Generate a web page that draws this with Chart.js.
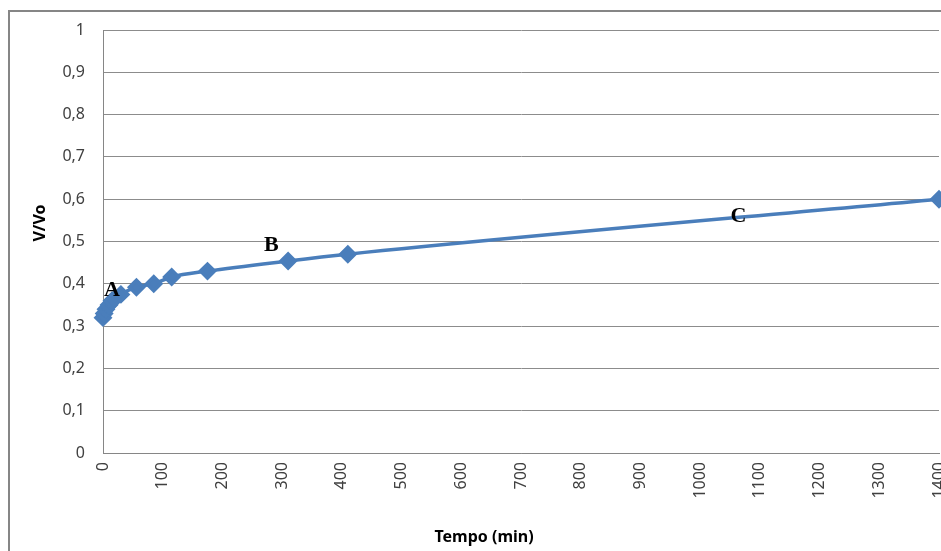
<!DOCTYPE html>
<html>
<head>
<meta charset="utf-8">
<script src="https://cdn.jsdelivr.net/npm/chart.js@4.4.1/dist/chart.umd.min.js"></script>
<style>
    html, body { margin: 0; padding: 0; background: #fff; }
    #wrap { width: 941px; height: 551px; position: relative; }
</style>
</head>
<body>
<div id="wrap"><canvas id="chart"></canvas></div>
<script>
// time in minutes and V/Vo
const tempo = [0, 2, 5, 10, 15, 20, 30, 56, 85, 115, 175, 310, 410, 1400];
const vVo = [0.32, 0.33, 0.34, 0.35, 0.36, 0.365, 0.375, 0.392, 0.40, 0.416, 0.43, 0.454, 0.47, 0.60];
const xTicks = [0, 100, 200, 300, 400, 500, 600, 700, 800, 900, 1000, 1100, 1200, 1300, 1400];
const yTicks = [0, 0.1, 0.2, 0.3, 0.4, 0.5, 0.6, 0.7, 0.8, 0.9, 1];
const regionLabels = ["A", "B", "C"];
const regionX = [15, 282, 1064];
const regionY = [0.385, 0.49, 0.56];

const points = tempo.map((t, i) => ({ x: t, y: vVo[i] }));

// frame, axis titles and the A / B / C labels
const extras = {
    id: "extras",
    beforeDraw(chart) {
        const ctx = chart.ctx;
        ctx.save();
        ctx.strokeStyle = "#868686";
        ctx.lineWidth = 2;
        ctx.beginPath();
        ctx.moveTo(9, 560);
        ctx.lineTo(9, 11);
        ctx.lineTo(950, 11);
        ctx.stroke();

        ctx.fillStyle = "#000";
        ctx.font = "bold 16px 'Noto Sans'";
        ctx.textAlign = "center";
        ctx.textBaseline = "middle";
        ctx.fillText("Tempo (min)", 484, 537);
        ctx.translate(40, 223);
        ctx.rotate(-Math.PI / 2);
        ctx.fillText("V/Vo", 0, 0);
        ctx.restore();
    },
    afterDatasetsDraw(chart) {
        const ctx = chart.ctx;
        const xs = chart.scales.x;
        const ys = chart.scales.y;
        ctx.save();
        ctx.fillStyle = "#000";
        ctx.font = "bold 22px 'Liberation Serif'";
        ctx.textAlign = "center";
        ctx.textBaseline = "middle";
        regionLabels.forEach((lab, i) => {
            ctx.fillText(lab, xs.getPixelForValue(regionX[i]), ys.getPixelForValue(regionY[i]));
        });
        ctx.restore();
    }
};

new Chart(document.getElementById("chart"), {
    type: "scatter",
    data: {
        datasets: [{
            data: points,
            showLine: true,
            borderColor: "#4a7ebb",
            backgroundColor: "#4a7ebb",
            borderWidth: 3.5,
            pointStyle: "rectRot",
            pointRadius: 7,
            pointHoverRadius: 7,
            cubicInterpolationMode: "monotone",
            clip: false
        }]
    },
    options: {
        responsive: true,
        maintainAspectRatio: false,
        animation: false,
        layout: { autoPadding: false, padding: { left: 12, top: 30, right: 2, bottom: 4 } },
        plugins: {
            legend: { display: false },
            tooltip: { enabled: false }
        },
        scales: {
            x: {
                type: "linear",
                min: 0,
                max: 1400,
                afterBuildTicks: (axis) => { axis.ticks = xTicks.map(v => ({ value: v })); },
                afterFit: (axis) => {
                    axis.height = 94;
                    axis.paddingLeft = 0;
                    axis.paddingRight = 0;
                },
                grid: { display: false, drawTicks: false },
                border: { display: true, color: "#868686", width: 1 },
                ticks: {
                    minRotation: 90,
                    maxRotation: 90,
                    padding: 9,
                    color: "#404040",
                    font: { family: "'Noto Sans'", size: 16 },
                    callback: (v) => String(v)
                }
            },
            y: {
                min: 0,
                max: 1,
                afterBuildTicks: (axis) => { axis.ticks = yTicks.map(v => ({ value: v })); },
                afterFit: (axis) => { axis.width = 91; },
                grid: { color: "#8c8c8c", drawTicks: false },
                border: { display: true, color: "#868686", width: 1 },
                ticks: {
                    padding: 18,
                    color: "#404040",
                    font: { family: "'Noto Sans'", size: 16 },
                    callback: (v) => String(Math.round(v * 10) / 10).replace(".", ",")
                }
            }
        }
    },
    plugins: [extras]
});
</script>
</body>
</html>
